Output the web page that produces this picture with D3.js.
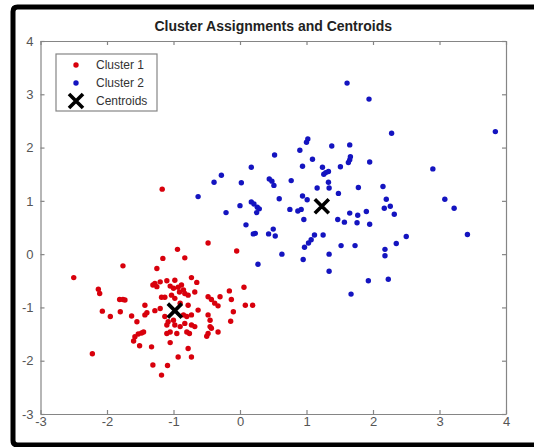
<!DOCTYPE html>
<html>
<head>
<meta charset="utf-8">
<script src="https://cdn.jsdelivr.net/npm/d3@7"></script>
<style>
  html, body { margin: 0; background: #fff; overflow: hidden; }
  svg { display: block; }
  .axis path, .axis line { stroke: #858585; stroke-width: 1.2; }
  .axis text { fill: #555; font-family: "Liberation Sans", Arial, sans-serif; font-size: 13px; }
</style>
</head>
<body>
<div class="chart"></div>
<script>
// === Data ===
const cluster1X = [-1.17,-1.76,-2.50,-1.16,-1.25,-2.13,-2.11,-1.31,-1.25,-1.20,-1.28,-1.18,-1.81,-1.76,-1.73,-2.07,
  -1.95,-1.80,-1.63,-1.55,-1.43,-1.43,-1.40,-1.28,-1.20,-1.58,-1.53,-1.48,-1.45,-1.60,-1.51,-1.33,-2.22,-1.31,
  -1.18,-1.09,-0.48,-0.94,-0.05,-0.83,-0.73,-0.65,-0.98,-1.05,-1.00,-0.93,-0.88,-0.85,-0.91,-0.83,-1.10,0.06,
  -0.16,-1.03,-0.98,-1.13,-0.78,-0.68,-0.48,-0.43,-0.38,-0.33,-0.30,-0.13,0.08,0.19,-0.90,-0.78,-0.10,-0.63,
  -0.73,-0.80,-0.85,-0.48,-1.13,-1.08,-1.10,-1.00,-0.98,-0.90,-0.73,-0.68,-0.83,-0.80,-0.76,-0.45,-0.45,-0.43,
  -0.48,-0.50,-0.33,-0.14,-1.05,-0.95,-1.10,-1.05,-0.78,-0.93,-0.73];
const cluster1Y = [1.22,-0.22,-0.44,-0.08,-0.27,-0.66,-0.74,-0.58,-0.61,-0.52,-0.55,-0.81,-0.85,-0.85,-0.86,-1.07,
  -1.17,-1.08,-1.16,-1.27,-0.96,-1.14,-1.10,-1.06,-1.02,-1.55,-1.50,-1.48,-1.46,-1.63,-1.72,-1.74,-1.87,-2.08,
  -2.27,-2.09,0.21,0.09,0.06,-0.07,-0.44,-0.53,-0.49,-0.60,-0.64,-0.62,-0.58,-0.67,-0.71,-0.74,-0.50,-0.62,
  -0.69,-0.77,-0.83,-0.81,-0.77,-0.71,-0.80,-0.85,-0.92,-0.97,-0.80,-0.85,-0.96,-0.96,-0.92,-0.96,-1.08,-1.05,
  -1.14,-1.17,-1.14,-1.14,-1.17,-1.27,-1.33,-1.24,-1.33,-1.36,-1.33,-1.36,-1.30,-1.46,-1.49,-1.24,-1.36,-1.39,
  -1.49,-1.54,-1.46,-1.26,-1.46,-1.49,-1.49,-1.66,-1.77,-1.93,-1.93];

const cluster2X = [1.61,1.94,2.28,3.84,1.02,1.00,0.90,1.38,1.65,0.52,1.66,1.65,1.63,1.09,1.95,0.17,-0.28,-0.39,
  0.94,1.24,1.33,1.29,1.26,1.51,2.90,0.44,0.48,0.51,0.77,0.02,1.33,1.16,1.34,1.78,2.15,1.48,-0.63,0.59,0.94,
  1.01,2.20,3.08,0.17,0.21,0.26,0.29,0.25,0.00,0.75,0.87,0.92,0.96,-0.21,2.17,2.26,2.32,3.22,1.47,1.57,1.65,
  1.77,1.90,1.76,1.95,0.09,0.23,0.20,0.43,0.50,0.53,1.12,1.25,1.07,1.03,0.97,1.52,1.73,3.42,2.50,2.35,2.18,
  2.18,0.63,1.34,0.95,0.27,1.34,1.93,2.23,1.67];
const cluster2Y = [3.21,2.91,2.27,2.30,2.16,2.10,1.95,2.03,2.05,1.86,1.83,1.77,1.72,1.78,1.73,1.63,1.48,1.35,
  1.65,1.63,1.55,1.53,1.50,1.64,1.60,1.41,1.37,1.29,1.38,1.34,1.35,1.24,1.24,1.25,1.27,1.14,1.08,1.04,1.09,
  1.02,1.03,1.03,0.98,0.94,0.88,0.85,0.78,0.91,0.84,0.81,0.84,0.65,0.78,0.86,0.90,0.75,0.86,0.65,0.60,0.77,
  0.73,0.80,0.59,0.56,0.55,0.39,0.38,0.38,0.47,0.34,0.36,0.36,0.27,0.21,0.13,0.16,0.16,0.37,0.33,0.20,0.09,
  -0.03,0.00,0.00,-0.10,-0.19,-0.32,-0.50,-0.47,-0.75];

const centroidX = [-0.98, 1.23];
const centroidY = [-1.06, 0.90];

const xTicks = [-3, -2, -1, 0, 1, 2, 3, 4];
const yTicks = [-3, -2, -1, 0, 1, 2, 3, 4];
const legendLabels = ["Cluster 1", "Cluster 2", "Centroids"];
const chartTitle = "Cluster Assignments and Centroids";

// === Margin Convention ===
const margin = {top: 41, left: 40.5};
const width = 465.5, height = 373;

const root = d3.select(".chart").append("svg")
    .attr("width", 534)
    .attr("height", 447);

// outer black frame (left, top, bottom; right side runs off the picture)
root.append("path")
    .attr("d", "M540,7H17.5Q13,7 13,11.5V440.5Q13,445 17.5,445H540")
    .attr("fill", "none")
    .attr("stroke", "#000")
    .attr("stroke-width", 5);

const svg = root.append("g")
    .attr("transform", `translate(${margin.left},${margin.top})`);

// === Scales ===
const xScale = d3.scaleLinear().domain([-3, 4]).range([0, width]);
const yScale = d3.scaleLinear().domain([-3, 4]).range([height, 0]);

const plain = d => String(d); // plain hyphen, no decimals

// === Axes (MATLAB style box, ticks pointing in) ===
svg.append("g").attr("class", "axis")
    .attr("transform", `translate(0,${height})`)
    .call(d3.axisBottom(xScale).tickValues(xTicks).tickFormat(plain)
        .tickSizeInner(-4).tickSizeOuter(0).tickPadding(3));

svg.append("g").attr("class", "axis")
    .call(d3.axisLeft(yScale).tickValues(yTicks).tickFormat(plain)
        .tickSizeInner(-4).tickSizeOuter(0).tickPadding(7));

svg.append("g").attr("class", "axis")
    .call(d3.axisTop(xScale).tickValues(xTicks).tickSizeInner(-4).tickSizeOuter(0).tickFormat(""));

svg.append("g").attr("class", "axis")
    .attr("transform", `translate(${width},0)`)
    .call(d3.axisRight(yScale).tickValues(yTicks).tickSizeInner(-4).tickSizeOuter(0).tickFormat(""));

// === Title ===
root.append("text")
    .attr("x", margin.left + width / 2)
    .attr("y", 30.5)
    .attr("text-anchor", "middle")
    .style("font-family", "'Liberation Sans', Arial, sans-serif")
    .style("font-weight", "bold")
    .style("font-size", "14px")
    .style("fill", "#222")
    .text(chartTitle);

// === Points ===
const red = "#d8000c", blue = "#1414c0";

svg.selectAll(".c1")
    .data(cluster1X.map((x, i) => ({x: x, y: cluster1Y[i]})))
    .enter().append("circle")
    .attr("class", "c1")
    .attr("cx", d => xScale(d.x))
    .attr("cy", d => yScale(d.y))
    .attr("r", 2.7)
    .attr("fill", red);

svg.selectAll(".c2")
    .data(cluster2X.map((x, i) => ({x: x, y: cluster2Y[i]})))
    .enter().append("circle")
    .attr("class", "c2")
    .attr("cx", d => xScale(d.x))
    .attr("cy", d => yScale(d.y))
    .attr("r", 2.7)
    .attr("fill", blue);

const cross = "M-7,-7L7,7M-7,7L7,-7";

svg.selectAll(".centroid")
    .data(centroidX.map((x, i) => ({x: x, y: centroidY[i]})))
    .enter().append("path")
    .attr("class", "centroid")
    .attr("transform", d => `translate(${xScale(d.x)},${yScale(d.y)})`)
    .attr("d", cross)
    .attr("stroke", "#000")
    .attr("stroke-width", 3.6)
    .attr("fill", "none");

// === Legend ===
const legend = root.append("g").attr("transform", "translate(56,54)");

legend.append("rect")
    .attr("width", 101).attr("height", 57)
    .attr("fill", "#fff")
    .attr("stroke", "#858585")
    .attr("stroke-width", 1.2);

const rows = legend.selectAll(".row")
    .data(legendLabels)
    .enter().append("g")
    .attr("class", "row")
    .attr("transform", (d, i) => `translate(0,${11 + i * 18})`);

rows.each(function(d, i) {
    const g = d3.select(this);
    if (i < 2) {
        g.append("circle").attr("cx", 20).attr("r", 2.7).attr("fill", i === 0 ? red : blue);
    } else {
        g.append("path").attr("transform", "translate(20,0)")
            .attr("d", cross).attr("stroke", "#000").attr("stroke-width", 3.6).attr("fill", "none");
    }
});

rows.append("text")
    .attr("x", 40)
    .attr("dy", "0.35em")
    .style("font-family", "'Liberation Sans', Arial, sans-serif")
    .style("font-size", "12px")
    .style("fill", "#333")
    .text(d => d);
</script>
</body>
</html>
